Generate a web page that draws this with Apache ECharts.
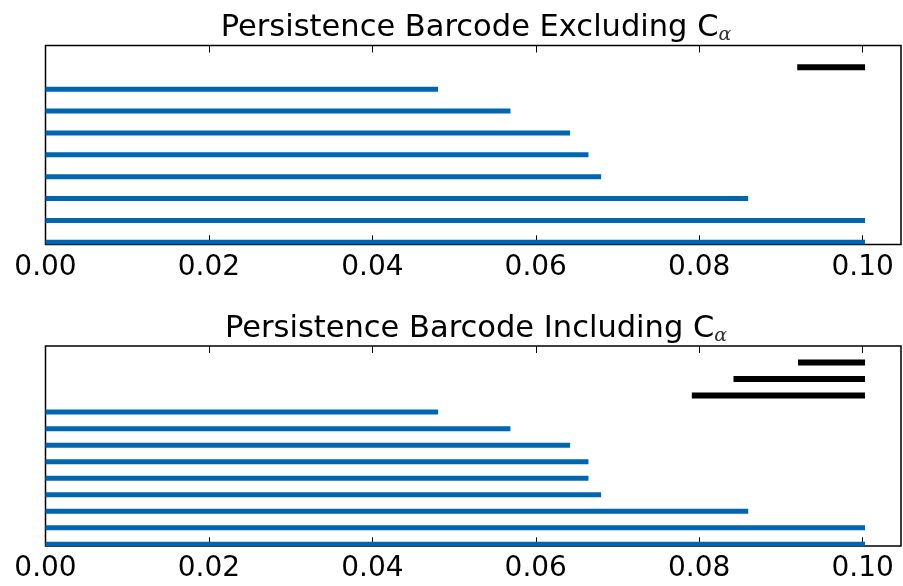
<!DOCTYPE html>
<html>
<head>
<meta charset="utf-8">
<script src="https://cdn.jsdelivr.net/npm/echarts@6/dist/echarts.min.js"></script>
<style>
html,body{margin:0;padding:0;background:#fff;}
#main{width:903px;height:586px;}
</style>
</head>
<body>
<div id="main"></div>
<script>
// ---- data ----
const titleTop = 'Persistence Barcode Excluding C';
const titleBottom = 'Persistence Barcode Including C';
const subscript = 'α';
const tickValues = [0, 0.02, 0.04, 0.06, 0.08, 0.10];
const tickLabels = ['0.00', '0.02', '0.04', '0.06', '0.08', '0.10'];
// bars listed from bottom (index 0) upward; blue bars start at 0
const topBlueDeaths = [0.1003, 0.1003, 0.0860, 0.0680, 0.06645, 0.0642, 0.0569, 0.04805];
const topBlackBirths = [0.0920];
const topBlackDeaths = [0.1003];
const bottomBlueDeaths = [0.1003, 0.1003, 0.0860, 0.0680, 0.06645, 0.06645, 0.0642, 0.0569, 0.04805];
const bottomBlackBirths = [0.0791, 0.0842, 0.0921];
const bottomBlackDeaths = [0.1003, 0.1003, 0.1003];

const BLUE = '#0066b0';
const BLACK = '#000000';
const XMAX = 0.1047;

function buildBars(blueDeaths, blackBirths, blackDeaths) {
  const blue = blueDeaths.map((d, i) => [0, d, i]);
  const black = blackBirths.map((b, i) => [b, blackDeaths[i], blueDeaths.length + i]);
  return { blue, black, n: blueDeaths.length + blackBirths.length };
}
const barsTop = buildBars(topBlueDeaths, topBlackBirths, topBlackDeaths);
const barsBot = buildBars(bottomBlueDeaths, bottomBlackBirths, bottomBlackDeaths);

function renderer(color, width) {
  return function (params, api) {
    const s = api.coord([api.value(0), api.value(2)]);
    const e = api.coord([api.value(1), api.value(2)]);
    return {
      type: 'line',
      shape: { x1: s[0], y1: s[1], x2: e[0], y2: e[1] },
      style: { stroke: color, lineWidth: width, lineCap: 'butt' }
    };
  };
}

function xAxisDef(gridIndex, position, showLabels) {
  return {
    type: 'value', gridIndex, position,
    min: 0, max: XMAX, interval: 0.02,
    axisLine: { show: false },
    splitLine: { show: false },
    axisTick: {
      show: true, inside: true, length: 7,
      lineStyle: { color: '#000', width: 1 },
      customValues: tickValues
    },
    axisLabel: {
      show: showLabels, margin: 9,
      fontSize: 28, fontFamily: 'DejaVu Sans', color: '#000',
      customValues: tickValues,
      formatter: v => {
        const i = tickValues.findIndex(t => Math.abs(t - v) < 1e-9);
        return i >= 0 ? tickLabels[i] : '';
      }
    }
  };
}

function titleDef(text, y) {
  return {
    text: '{m|' + text + '}{a|' + subscript + '}',
    left: 471, top: y, textAlign: 'center',
    textStyle: {
      fontWeight: 'normal',
      rich: {
        m: { fontSize: 30.5, fontFamily: 'DejaVu Sans', fontWeight: 'normal', color: '#000', lineHeight: 34 },
        a: { fontSize: 19, fontFamily: 'DejaVu Serif', fontWeight: 'normal', fontStyle: 'italic', color: '#333',
             verticalAlign: 'bottom', lineHeight: 34, padding: [6, 0, 0, 0] }
      }
    }
  };
}

const chart = echarts.init(document.getElementById('main'), null, { renderer: 'canvas' });
chart.setOption({
  animation: false,
  backgroundColor: '#fff',
  title: [titleDef(titleTop, 6), titleDef(titleBottom, 307)],
  grid: [
    { left: 45.5, top: 45.5, width: 855.5, height: 199, show: true, borderColor: '#000', borderWidth: 1.5, backgroundColor: 'transparent' },
    { left: 45.5, top: 346, width: 855.5, height: 200, show: true, borderColor: '#000', borderWidth: 1.5, backgroundColor: 'transparent' }
  ],
  xAxis: [
    xAxisDef(0, 'bottom', true),
    xAxisDef(0, 'top', false),
    xAxisDef(1, 'bottom', true),
    xAxisDef(1, 'top', false)
  ],
  yAxis: [
    { type: 'value', gridIndex: 0, min: -0.1, max: barsTop.n, show: false },
    { type: 'value', gridIndex: 1, min: -0.1, max: barsBot.n, show: false }
  ],
  series: [
    { type: 'custom', xAxisIndex: 0, yAxisIndex: 0, clip: true, encode: { x: [0, 1], y: 2 }, data: barsTop.blue, renderItem: renderer(BLUE, 5) },
    { type: 'custom', xAxisIndex: 0, yAxisIndex: 0, clip: true, encode: { x: [0, 1], y: 2 }, data: barsTop.black, renderItem: renderer(BLACK, 6) },
    { type: 'custom', xAxisIndex: 2, yAxisIndex: 1, clip: true, encode: { x: [0, 1], y: 2 }, data: barsBot.blue, renderItem: renderer(BLUE, 5) },
    { type: 'custom', xAxisIndex: 2, yAxisIndex: 1, clip: true, encode: { x: [0, 1], y: 2 }, data: barsBot.black, renderItem: renderer(BLACK, 6) }
  ]
});
</script>
</body>
</html>
